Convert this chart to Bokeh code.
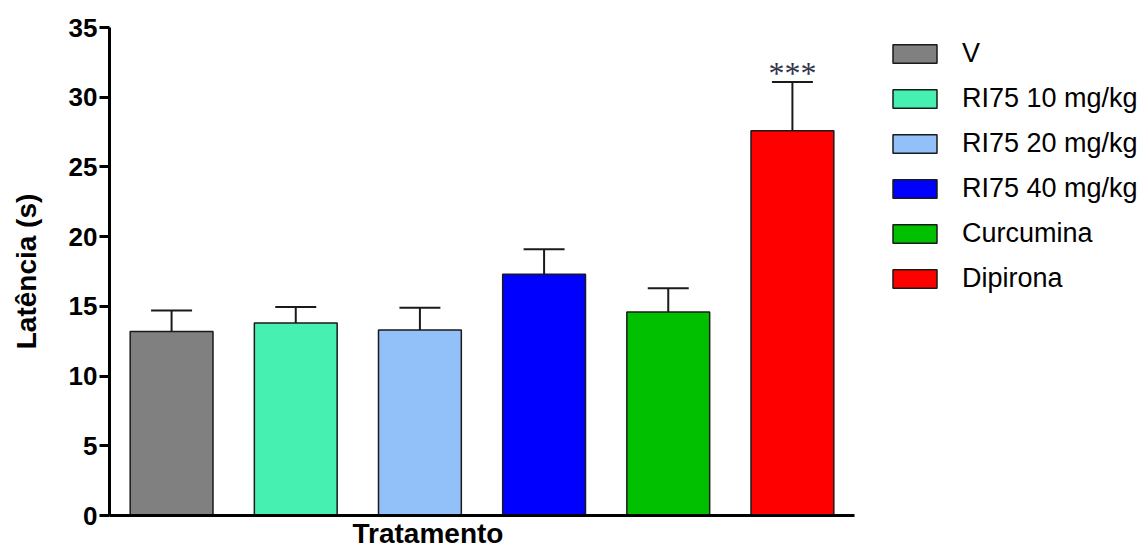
from bokeh.plotting import figure
from bokeh.models import (ColumnDataSource, Range1d, FixedTicker, Legend, LegendItem, Title)
from bokeh.embed import file_html
from bokeh.resources import INLINE

groups = ["V", "RI75 10 mg/kg", "RI75 20 mg/kg", "RI75 40 mg/kg", "Curcumina", "Dipirona"]
means = [13.2, 13.8, 13.3, 17.3, 14.6, 27.6]
sems = [1.5, 1.15, 1.6, 1.8, 1.7, 3.5]
signif = ["", "", "", "", "", "***"]
colors = ["#808080", "#45F0B0", "#92C0F8", "#0000FF", "#00C000", "#FF0000"]
y_ticks = [0, 5, 10, 15, 20, 25, 30, 35]

FONT = "Liberation Sans"
W, H = 1147, 548
LEFT, TOP, BOTTOM = 109, 27, 32
AXIS_RIGHT = 854  # where the x axis line ends (px)

n = len(groups)
xs = list(range(n))
bar_w = 0.667
cap_half = 0.165
tops = [m + s for m, s in zip(means, sems)]
x_end = -0.5 + n * (W - LEFT) / (AXIS_RIGHT - LEFT)

src = ColumnDataSource(dict(
    x=xs, group=groups, mean=means, top=tops, color=colors,
    cap0=[x - cap_half for x in xs], cap1=[x + cap_half for x in xs],
    sig=signif,
))

p = figure(width=W, height=H, output_backend="svg", toolbar_location=None,
           x_range=Range1d(-0.5, x_end), y_range=Range1d(0, 35),
           min_border_left=LEFT, min_border_top=TOP, min_border_bottom=BOTTOM,
           min_border_right=0)
p.outline_line_color = None
p.grid.visible = False

bars = p.vbar(x="x", top="mean", width=bar_w, bottom=0, source=src,
              fill_color="color", line_color="#1a1a1a", line_width=1.5)
p.segment(x0="x", y0="mean", x1="x", y1="top", source=src, line_color="#1a1a1a", line_width=2)
p.segment(x0="cap0", y0="top", x1="cap1", y1="top", source=src, line_color="#1a1a1a", line_width=2)
p.text(x="x", y="top", text="sig", source=src, text_align="center", text_baseline="alphabetic",
       text_font=FONT, text_font_size="32px", text_color="#33334a", y_offset=-9)

# axes
p.xaxis.ticker = FixedTicker(ticks=[])
p.xaxis.bounds = (-0.5, n - 0.5)
p.xaxis.axis_line_width = 3
p.xaxis.axis_line_color = "black"
p.xaxis.major_tick_line_color = None
p.xaxis.minor_tick_line_color = None
p.xaxis.major_tick_out = 0
p.xaxis.major_tick_in = 0
p.xaxis.major_label_standoff = 0
p.xaxis.axis_label_standoff = 0
p.xaxis.major_label_text_font_size = "0px"

p.yaxis.ticker = FixedTicker(ticks=y_ticks)
p.yaxis.axis_line_width = 3
p.yaxis.axis_line_color = "black"
p.yaxis.major_tick_line_width = 3
p.yaxis.major_tick_line_color = "black"
p.yaxis.major_tick_out = 10
p.yaxis.major_tick_in = 0
p.yaxis.minor_tick_line_color = None
p.yaxis.major_label_text_font = FONT
p.yaxis.major_label_text_font_style = "bold"
p.yaxis.major_label_text_font_size = "26px"
p.yaxis.major_label_text_color = "black"
p.yaxis.major_label_standoff = 2
p.yaxis.axis_label = "Latência (s)"
p.yaxis.axis_label_text_font = FONT
p.yaxis.axis_label_text_font_style = "bold"
p.yaxis.axis_label_text_font_size = "28px"
p.yaxis.axis_label_text_color = "black"
p.yaxis.axis_label_standoff = 24

p.add_layout(Title(text="Tratamento", align="left", offset=243, standoff=0,
                   text_font=FONT, text_font_style="bold", text_font_size="28px",
                   text_color="black"), "below")

items = [LegendItem(label=g, renderers=[bars], index=i) for i, g in enumerate(groups)]
legend = Legend(items=items, location=(778, 221), margin=0, padding=0,
                glyph_width=55, glyph_height=23, label_height=32, spacing=13,
                label_standoff=20, border_line_color=None, background_fill_alpha=0,
                label_text_font=FONT, label_text_font_size="27px", label_text_color="black")
p.add_layout(legend, "center")

open("out.html", "w").write(file_html(p, INLINE))
